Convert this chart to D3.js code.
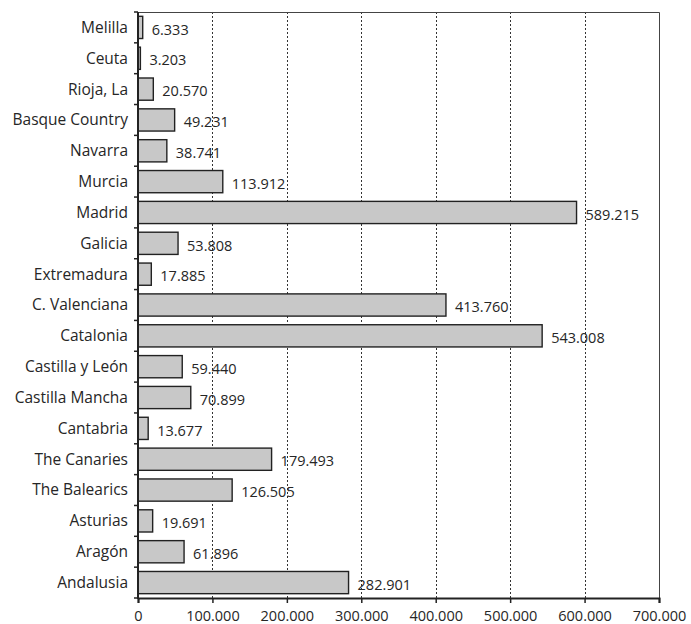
<!DOCTYPE html>
<html>
<head>
<meta charset="utf-8">
<script src="https://cdn.jsdelivr.net/npm/d3@7"></script>
<style>
  html, body { margin: 0; padding: 0; background: #fff; }
  text { font-family: "Open Sans", "Noto Sans", sans-serif; fill: #262626; }
</style>
</head>
<body>
<svg id="chart" width="691" height="624"></svg>
<script>
// Regions, top to bottom
const regions = ["Melilla", "Ceuta", "Rioja, La", "Basque Country", "Navarra", "Murcia",
  "Madrid", "Galicia", "Extremadura", "C. Valenciana", "Catalonia", "Castilla y León",
  "Castilla Mancha", "Cantabria", "The Canaries", "The Balearics", "Asturias", "Aragón", "Andalusia"];
const values = [6333, 3203, 20570, 49231, 38741, 113912, 589215, 53808, 17885, 413760,
  543008, 59440, 70899, 13677, 179493, 126505, 19691, 61896, 282901];
const xTicks = [0, 100000, 200000, 300000, 400000, 500000, 600000, 700000];

const svg = d3.select("#chart");
const plotL = 138, plotR = 659, plotT = 12, plotB = 598;

const x = d3.scaleLinear().domain([0, 700000]).range([plotL, plotR]);
const y = d3.scaleBand().domain(regions).range([plotT, plotB]).paddingInner(0.28).paddingOuter(0.14);

const fmt = v => d3.format(",")(v).replace(/,/g, ".");

// dotted vertical gridlines
svg.append("g").selectAll("line").data(xTicks.slice(1, -1)).join("line")
  .attr("x1", d => Math.round(x(d)) + 0.5).attr("x2", d => Math.round(x(d)) + 0.5)
  .attr("y1", plotT).attr("y2", plotB)
  .attr("stroke", "#333").attr("stroke-width", 1).attr("stroke-dasharray", "2,2");

// frame: top and right
svg.append("path")
  .attr("d", `M${plotL},${plotT + 0.5}H${plotR + 0.5}V${plotB}`)
  .attr("fill", "none").attr("stroke", "#444").attr("stroke-width", 1);

// bars
svg.append("g").selectAll("rect").data(values).join("rect")
  .attr("x", x(0))
  .attr("y", (d, i) => y(regions[i]))
  .attr("width", d => x(d) - x(0))
  .attr("height", y.bandwidth())
  .attr("fill", "#c8c8c8").attr("stroke", "#222").attr("stroke-width", 1.4);

// value labels
svg.append("g").selectAll("text").data(values).join("text")
  .attr("x", d => x(d) + 9)
  .attr("y", (d, i) => y(regions[i]) + y.bandwidth() / 2 + 2)
  .attr("dy", "0.36em")
  .attr("font-size", 14.5)
  .text(d => fmt(d));

// x axis
const xAxis = d3.axisBottom(x).tickValues(xTicks).tickFormat(fmt).tickSizeOuter(0).tickSize(5).tickPadding(8);
const gx = svg.append("g").attr("transform", `translate(0,${plotB})`).call(xAxis);
gx.select(".domain").attr("stroke", "#222").attr("stroke-width", 2);
gx.selectAll(".tick line").attr("stroke", "#222").attr("stroke-width", 1.5);
gx.selectAll(".tick text").attr("font-size", 14.5).attr("fill", "#262626")
  .attr("font-family", "'Open Sans', sans-serif");

// y axis with ticks at category boundaries
const gy = svg.append("g");
gy.append("line").attr("x1", plotL).attr("x2", plotL).attr("y1", plotT).attr("y2", plotB + 1)
  .attr("stroke", "#222").attr("stroke-width", 2);
const bounds = d3.range(regions.length + 1).map(i => plotT + (plotB - plotT) * i / regions.length);
gy.selectAll("line.b").data(bounds).join("line").attr("class", "b")
  .attr("x1", plotL - 4).attr("x2", plotL).attr("y1", d => d).attr("y2", d => d)
  .attr("stroke", "#222").attr("stroke-width", 1.5);
gy.selectAll("text").data(regions).join("text")
  .attr("x", plotL - 10)
  .attr("y", d => y(d) + y.bandwidth() / 2)
  .attr("dy", "0.35em")
  .attr("text-anchor", "end")
  .attr("font-size", 15.5)
  .text(d => d);
</script>
</body>
</html>
